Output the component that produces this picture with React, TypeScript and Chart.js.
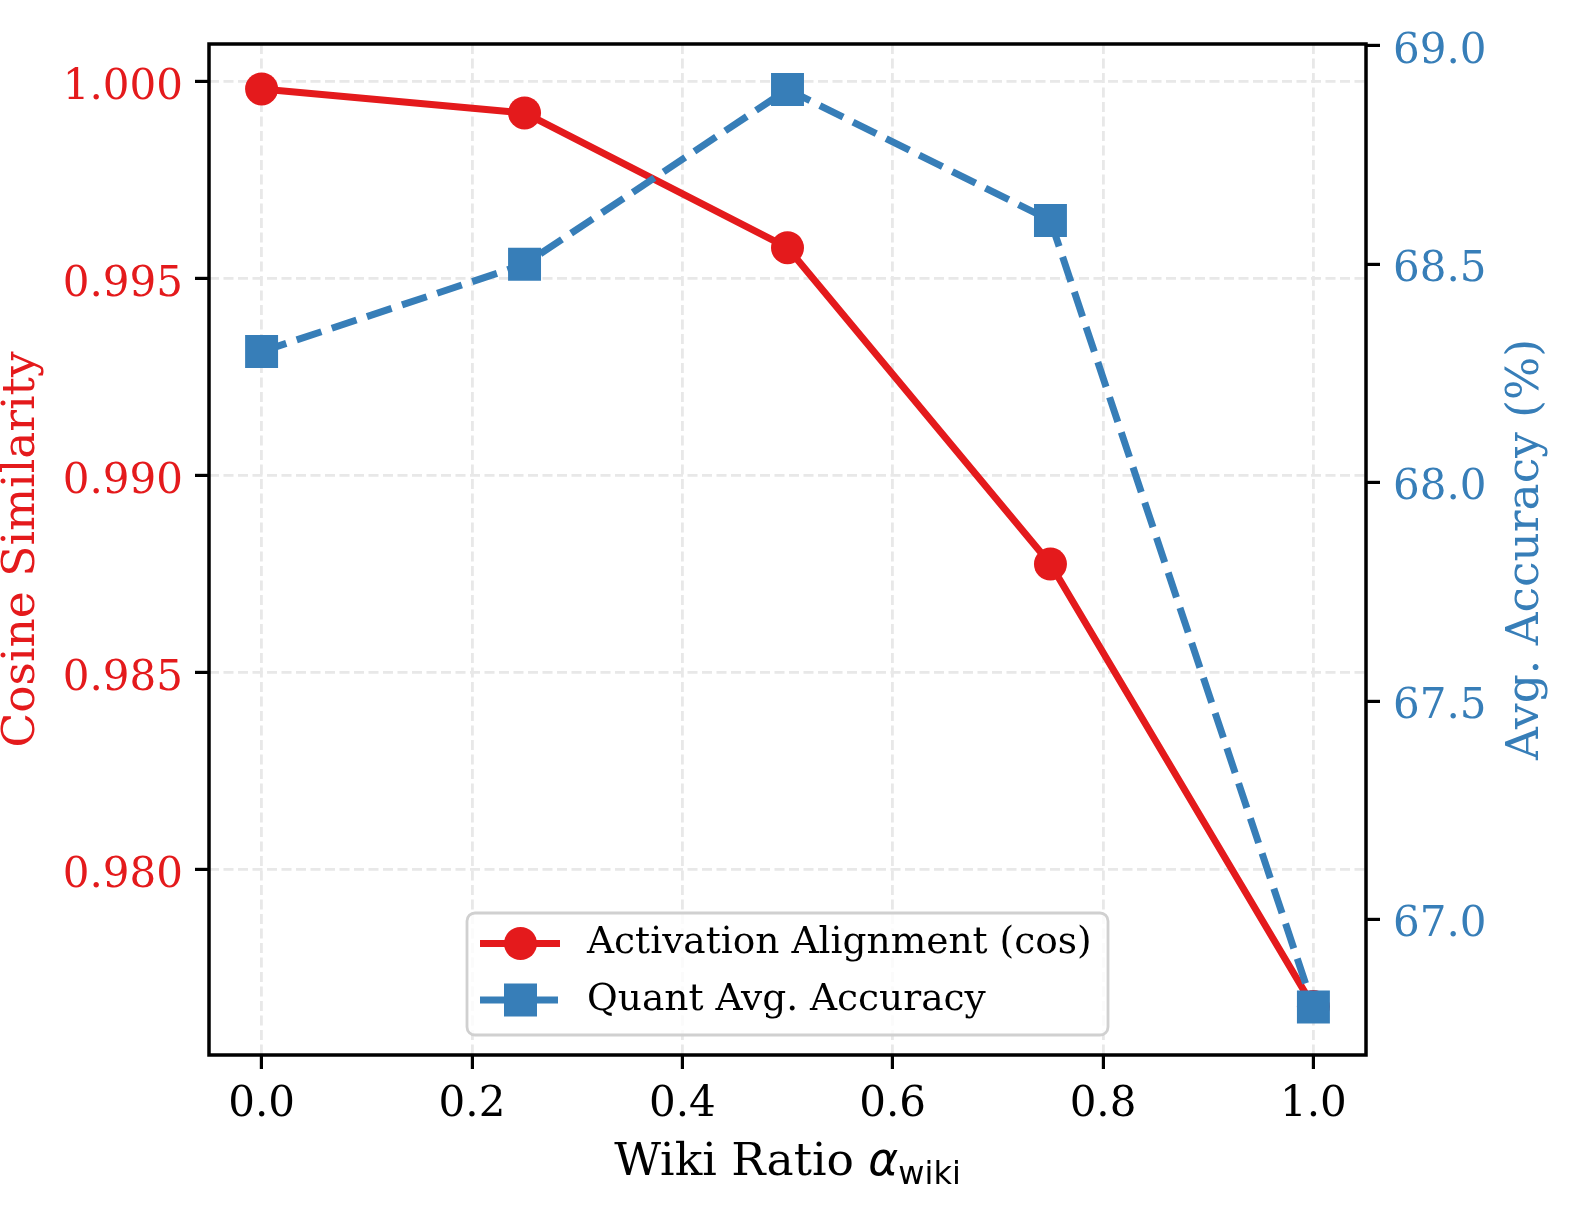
import { useEffect, useRef } from "react";
import { Chart, registerables } from "chart.js";

Chart.register(...registerables);

// Mixing ratio of Wikipedia data in the calibration set
const wikiRatio = [0.0, 0.25, 0.5, 0.75, 1.0];
// Activation alignment (cosine similarity) per ratio
const cosineSim = [0.99982, 0.99921, 0.99579, 0.98776, 0.97653];
// Quantized model average accuracy (%) per ratio
const quantAcc = [68.3, 68.5, 68.9, 68.6, 66.8];

const xTicks = [0.0, 0.2, 0.4, 0.6, 0.8, 1.0];
const cosTicks = [0.98, 0.985, 0.99, 0.995, 1.0];
const accTicks = [67.0, 67.5, 68.0, 68.5, 69.0];

const legendLabels = ["Activation Alignment (cos)", "Quant Avg. Accuracy"];

const RED = "#e41a1c";
const BLUE = "#377eb8";
const SERIF = "'DejaVu Serif', serif";
const SANS = "'DejaVu Sans', sans-serif";

const W = 1579;
const H = 1217;

const TICK_FONT = 42;
const LABEL_FONT = 45.5;
const LEGEND_FONT = 37.5;
const CLEAR = "rgba(0,0,0,0)";

const frameAndText = {
  id: "frameAndText",
  afterDraw(chart: any) {
    const ctx: CanvasRenderingContext2D = chart.ctx;
    const a = chart.chartArea;
    const sx = chart.scales.x;
    const sc = chart.scales.yCos;
    const sa = chart.scales.yAcc;
    ctx.save();

    // axes frame
    ctx.strokeStyle = "#000";
    ctx.lineWidth = 3.5;
    ctx.setLineDash([]);
    ctx.strokeRect(a.left, a.top, a.right - a.left, a.bottom - a.top);

    // tick labels
    ctx.font = `${TICK_FONT}px ${SERIF}`;
    ctx.textBaseline = "alphabetic";
    ctx.fillStyle = "#000";
    ctx.textAlign = "center";
    xTicks.forEach((v) => {
      ctx.fillText(v.toFixed(1), sx.getPixelForValue(v), 1116);
    });
    ctx.fillStyle = RED;
    ctx.textAlign = "right";
    cosTicks.forEach((v) => {
      ctx.fillText(v.toFixed(3), a.left - 26, sc.getPixelForValue(v) + 16.8);
    });
    ctx.fillStyle = BLUE;
    ctx.textAlign = "left";
    accTicks.forEach((v) => {
      ctx.fillText(v.toFixed(1), a.right + 27, sa.getPixelForValue(v) + 16.8);
    });

    const midY = (a.top + a.bottom) / 2;

    // left axis title
    ctx.font = `${LABEL_FONT}px ${SERIF}`;
    ctx.fillStyle = RED;
    ctx.textAlign = "center";
    ctx.textBaseline = "middle";
    ctx.save();
    ctx.translate(22, midY);
    ctx.rotate(-Math.PI / 2);
    ctx.fillText("Cosine Similarity", 0, 0);
    ctx.restore();

    // right axis title
    ctx.fillStyle = BLUE;
    ctx.save();
    ctx.translate(1526, midY);
    ctx.rotate(-Math.PI / 2);
    ctx.fillText("Avg. Accuracy (%)", 0, 0);
    ctx.restore();

    // x axis title with subscript
    const part1 = "Wiki Ratio ";
    const part2 = "\u03b1";
    const part3 = "wiki";
    const f1 = `${LABEL_FONT}px ${SERIF}`;
    const f2 = `italic ${LABEL_FONT}px ${SANS}`;
    const f3 = `${Math.round(LABEL_FONT * 0.7)}px ${SANS}`;
    ctx.font = f1;
    const w1 = ctx.measureText(part1).width;
    ctx.font = f2;
    const w2 = ctx.measureText(part2).width;
    ctx.font = f3;
    const w3 = ctx.measureText(part3).width;
    const total = w1 + w2 + w3;
    let x = (a.left + a.right) / 2 - total / 2;
    const base = 1175;
    ctx.fillStyle = "#000";
    ctx.textAlign = "left";
    ctx.textBaseline = "alphabetic";
    ctx.font = f1;
    ctx.fillText(part1, x, base);
    x += w1;
    ctx.font = f2;
    ctx.fillText(part2, x, base);
    x += w2;
    ctx.font = f3;
    ctx.fillText(part3, x, base + 9);

    // legend box
    const bx = 467, by = 913, bw = 641, bh = 122, r = 8;
    ctx.beginPath();
    ctx.moveTo(bx + r, by);
    ctx.arcTo(bx + bw, by, bx + bw, by + bh, r);
    ctx.arcTo(bx + bw, by + bh, bx, by + bh, r);
    ctx.arcTo(bx, by + bh, bx, by, r);
    ctx.arcTo(bx, by, bx + bw, by, r);
    ctx.closePath();
    ctx.fillStyle = "rgba(255,255,255,0.8)";
    ctx.fill();
    ctx.strokeStyle = "#d0d0d0";
    ctx.lineWidth = 2.8;
    ctx.stroke();

    const hx1 = 480, hx2 = 560, hc = 520.5;
    const rows = [943.5, 1000];
    // red handle: line with circle
    ctx.strokeStyle = RED;
    ctx.lineWidth = 7;
    ctx.lineCap = "butt";
    ctx.beginPath();
    ctx.moveTo(hx1, rows[0]);
    ctx.lineTo(hx2, rows[0]);
    ctx.stroke();
    ctx.fillStyle = RED;
    ctx.beginPath();
    ctx.arc(hc, rows[0], 16.5, 0, Math.PI * 2);
    ctx.fill();
    // blue handle: dash segments either side of the square
    ctx.strokeStyle = BLUE;
    ctx.beginPath();
    ctx.moveTo(hx1, rows[1]);
    ctx.lineTo(hc - 12, rows[1]);
    ctx.moveTo(hc + 12, rows[1]);
    ctx.lineTo(hx2 - 2, rows[1]);
    ctx.stroke();
    ctx.fillStyle = BLUE;
    ctx.fillRect(hc - 16.5, rows[1] - 16.5, 33, 33);

    ctx.fillStyle = "#000";
    ctx.font = `${LEGEND_FONT}px ${SERIF}`;
    ctx.textBaseline = "middle";
    ctx.fillText(legendLabels[0], 587, rows[0]);
    ctx.fillText(legendLabels[1], 587, rows[1]);

    ctx.restore();
  },
};

export default function App() {
  const ref = useRef<HTMLCanvasElement | null>(null);

  useEffect(() => {
    if (!ref.current) return;
    const gridCommon = {
      color: "#e8e8e8",
      lineWidth: 2.8,
      tickColor: "#000",
      tickWidth: 3.2,
      tickLength: 14,
      tickBorderDash: [],
    };
    const chart = new Chart(ref.current, {
      type: "line",
      data: {
        datasets: [
          {
            label: legendLabels[0],
            data: wikiRatio.map((x, i) => ({ x, y: cosineSim[i] })),
            yAxisID: "yCos",
            borderColor: RED,
            backgroundColor: RED,
            borderWidth: 7,
            borderJoinStyle: "round",
            pointStyle: "circle",
            pointRadius: 16.5,
            pointBorderWidth: 0,
            pointBackgroundColor: RED,
            tension: 0,
            order: 2,
            clip: false,
          },
          {
            label: legendLabels[1],
            data: wikiRatio.map((x, i) => ({ x, y: quantAcc[i] })),
            yAxisID: "yAcc",
            borderColor: BLUE,
            backgroundColor: BLUE,
            borderWidth: 7,
            borderDash: [26, 11],
            borderCapStyle: "butt",
            borderJoinStyle: "round",
            pointStyle: "rect",
            pointRadius: 23.3,
            pointBorderWidth: 0,
            pointBackgroundColor: BLUE,
            tension: 0,
            order: 1,
            clip: false,
          },
        ],
      },
      options: {
        responsive: false,
        maintainAspectRatio: false,
        devicePixelRatio: 1,
        animation: false,
        layout: { padding: { top: 44, left: 0, right: 0, bottom: 0 } },
        plugins: {
          legend: { display: false },
          title: { display: false },
          tooltip: { enabled: false },
        },
        scales: {
          x: {
            type: "linear",
            position: "bottom",
            min: -0.05,
            max: 1.05,
            afterBuildTicks: (s: any) => {
              s.ticks = xTicks.map((v) => ({ value: v }));
            },
            afterFit: (s: any) => {
              s.height = 162;
            },
            ticks: {
              callback: (v: any) => Number(v).toFixed(1),
              color: CLEAR,
              font: { family: SERIF, size: TICK_FONT },
              padding: 10,
              maxRotation: 0,
              autoSkip: false,
            },
            grid: { ...gridCommon, drawOnChartArea: true },
            border: { display: false, dash: [10, 4.5] },
          },
          yCos: {
            type: "linear",
            position: "left",
            min: 0.9753,
            max: 1.00096,
            afterBuildTicks: (s: any) => {
              s.ticks = cosTicks.map((v) => ({ value: v }));
            },
            afterFit: (s: any) => {
              s.width = 209;
            },
            ticks: {
              callback: (v: any) => Number(v).toFixed(3),
              color: CLEAR,
              font: { family: SERIF, size: TICK_FONT },
              padding: 12,
              autoSkip: false,
            },
            grid: { ...gridCommon, drawOnChartArea: true },
            border: { display: false, dash: [10, 4.5] },
          },
          yAcc: {
            type: "linear",
            position: "right",
            min: 66.69,
            max: 69.004,
            afterBuildTicks: (s: any) => {
              s.ticks = accTicks.map((v) => ({ value: v }));
            },
            afterFit: (s: any) => {
              s.width = 213;
            },
            ticks: {
              callback: (v: any) => Number(v).toFixed(1),
              color: CLEAR,
              font: { family: SERIF, size: TICK_FONT },
              padding: 13,
              autoSkip: false,
            },
            grid: { ...gridCommon, drawOnChartArea: false },
            border: { display: false },
          },
        },
      },
      plugins: [frameAndText],
    } as any);
    return () => chart.destroy();
  }, []);

  return (
    <div style={{ position: "absolute", left: 0, top: 0, width: W, height: H, background: "#fff" }}>
      <canvas ref={ref} width={W} height={H} style={{ display: "block", width: W, height: H }} />
    </div>
  );
}
